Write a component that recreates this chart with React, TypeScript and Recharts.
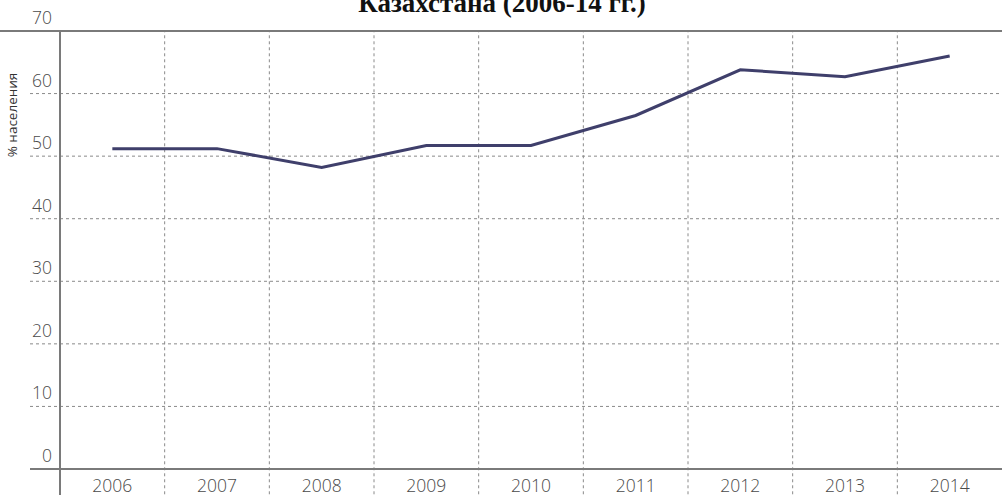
import { LineChart, Line, XAxis, YAxis, CartesianGrid, ReferenceLine } from "recharts"

const years = ["2006", "2007", "2008", "2009", "2010", "2011", "2012", "2013", "2014"]
const shares = [51.2, 51.2, 48.2, 51.7, 51.7, 56.5, 63.8, 62.7, 66.0]
const yTicks = [0, 10, 20, 30, 40, 50, 60, 70]

const W = 1002
const H = 495

// points sit in the middle of each year band, grid lines on band edges
const data = years.map((year, i) => ({ x: i + 0.5, year, value: shares[i] }))
const centers = data.map((d) => d.x)
const edges = years.slice(1).map((_, i) => i + 1)

const gridColor = "#8a8a8a"
const axisColor = "#7a7a7a"
const textColor = "#4a4a4a"
const font = "'Open Sans', sans-serif"

function YTick(props: any) {
  const { y, payload } = props
  const v = payload.value
  let line = <line x1={30} x2={60} y1={y} y2={y} stroke={gridColor} strokeDasharray="3 3" />
  if (v === 70) line = <line x1={0} x2={W} y1={y} y2={y} stroke={axisColor} strokeWidth={2} />
  if (v === 0) line = <line x1={30} x2={60} y1={y} y2={y} stroke={axisColor} strokeWidth={2} />
  return (
    <g>
      {line}
      <text x={52} y={y - 7} textAnchor="end" fill={textColor} fontSize={17.5} fontFamily={font} fontWeight={300}>
        {v}
      </text>
    </g>
  )
}

function XTick(props: any) {
  const { x, y, payload } = props
  const idx = centers.indexOf(payload.value)
  return (
    <text x={x} y={y + 15} textAnchor="middle" fill={textColor} fontSize={17.5} fontFamily={font} fontWeight={300}>
      {years[idx]}
    </text>
  )
}

export default function App() {
  return (
    <div style={{ width: W, height: H, background: "#fff", position: "relative", overflow: "hidden" }}>
      <style>{"body{margin:0}"}</style>
      <LineChart width={W} height={H} data={data} margin={{ top: 31, right: 0, bottom: 0, left: 0 }}>
        <CartesianGrid vertical={false} stroke={gridColor} strokeDasharray="3 3" />
        <XAxis
          type="number"
          dataKey="x"
          domain={[0, 9]}
          ticks={centers}
          interval={0}
          height={26}
          tickLine={false}
          axisLine={{ stroke: axisColor, strokeWidth: 2 }}
          tick={<XTick />}
        />
        <YAxis
          domain={[0, 70]}
          ticks={yTicks}
          interval={0}
          width={60}
          tickLine={false}
          axisLine={false}
          tick={<YTick />}
        />
        {edges.map((e) => (
          <ReferenceLine
            key={e}
            segment={[{ x: e, y: -5 }, { x: e, y: 70 }]}
            ifOverflow="visible"
            stroke={gridColor}
            strokeDasharray="3 3"
          />
        ))}
        <ReferenceLine
          segment={[{ x: 0, y: -5 }, { x: 0, y: 70 }]}
          ifOverflow="visible"
          stroke={axisColor}
          strokeWidth={2}
        />
        <Line
          type="linear"
          dataKey="value"
          stroke="#3f3f6b"
          strokeWidth={3}
          dot={false}
          isAnimationActive={false}
        />
        <text x={502} y={12} textAnchor="middle" fontSize={27} fontWeight="bold" fontFamily="'Liberation Serif', serif" fill="#111">
          Казахстана (2006-14 гг.)
        </text>
        <text
          x={17}
          y={115}
          transform="rotate(-90 17 115)"
          textAnchor="middle"
          fontSize={13.5}
          fontFamily={font}
          fill="#333"
        >
          % населения
        </text>
      </LineChart>
    </div>
  )
}
